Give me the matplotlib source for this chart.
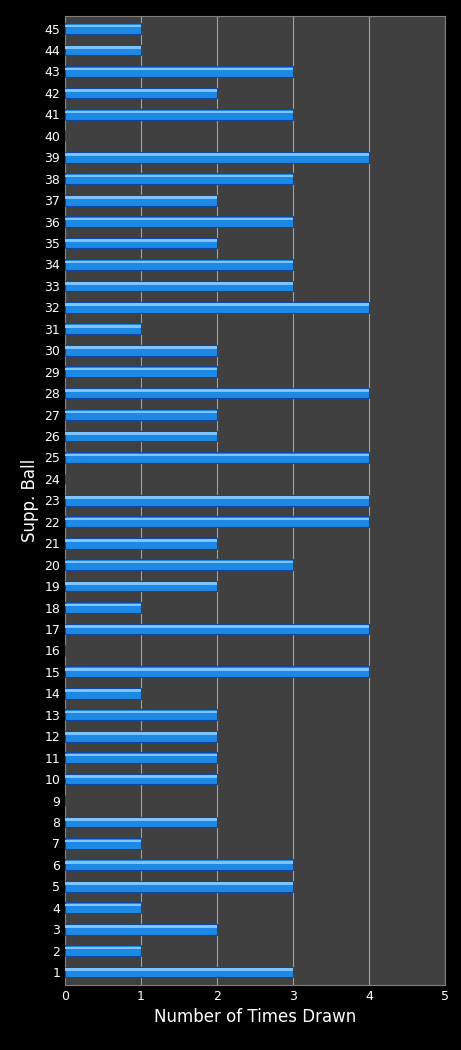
import matplotlib
matplotlib.use("Agg")
import matplotlib.pyplot as plt
import numpy as np

# Supp. ball numbers and how many times each was drawn
balls = list(range(1, 46))
times_drawn = [3, 1, 2, 1, 3, 3, 1, 2, 0, 2,
               2, 2, 2, 1, 4, 0, 4, 1, 2, 3,
               2, 4, 4, 0, 4, 2, 2, 4, 2, 2,
               1, 4, 3, 3, 2, 3, 2, 3, 4, 0,
               3, 2, 3, 1, 1]
x_ticks = [0, 1, 2, 3, 4, 5]

fig, ax = plt.subplots(figsize=(4.61, 10.5), dpi=100)
fig.patch.set_facecolor("black")
ax.set_facecolor("#404040")

ax.barh(balls, times_drawn, height=0.5, color="#1E88E5",
        edgecolor="#0D47A1", linewidth=0.8, zorder=3)
# light highlight on top of each bar
ax.barh(np.array(balls) + 0.12, times_drawn, height=0.12, color="#7CC4FF",
        linewidth=0, zorder=4)

ax.set_xlim(0, 5)
ax.set_ylim(0.4, 45.6)
ax.set_xticks(x_ticks)
ax.set_yticks(balls)
ax.grid(True, axis="x", color="#A0A0A0", linewidth=0.8, zorder=0)

ax.tick_params(axis="both", colors="white", labelsize=9, length=0)
for lab in ax.get_xticklabels() + ax.get_yticklabels():
    lab.set_color("white")
for s in ax.spines.values():
    s.set_color("#808080")

ax.set_xlabel("Number of Times Drawn", color="white", fontsize=12)
ax.set_ylabel("Supp. Ball", color="white", fontsize=12)

plt.subplots_adjust(left=0.141, right=0.965, top=0.985, bottom=0.062)
plt.savefig("out.png", dpi=100, facecolor="black")
